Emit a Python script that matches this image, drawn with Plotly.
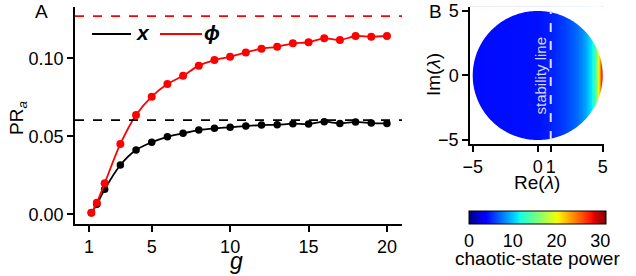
import numpy as np
import plotly.graph_objects as go

# ---------------- data ----------------
g_vals = [1.15, 1.5, 2, 3, 4, 5, 6, 7, 8, 9, 10, 11, 12, 13, 14, 15, 16, 17, 18, 19, 20]
pr_x = [0.001, 0.0064, 0.016, 0.0316, 0.0412, 0.0462, 0.0497, 0.0519, 0.054, 0.0551, 0.0558,
        0.0566, 0.0572, 0.0574, 0.0581, 0.0579, 0.0594, 0.0583, 0.0592, 0.0585, 0.0583]
pr_phi = [0.001, 0.0074, 0.0199, 0.0451, 0.0637, 0.0754, 0.0835, 0.0888, 0.0953, 0.0989, 0.101,
          0.1038, 0.1062, 0.1074, 0.1096, 0.1103, 0.1128, 0.1117, 0.1143, 0.1138, 0.1143]
limit_x = 0.0604
limit_phi = 0.1271
legend_names = ["x", "\u03d5"]

re_pts = [-5.3, -2.0, 0.0, 1.0, 2.0, 2.5, 3.0, 3.3, 3.6, 3.9, 4.1, 4.3, 4.5, 4.65, 4.8, 4.9, 5.0, 5.2]
power = [4.2, 4.3, 4.4, 4.9, 5.8, 6.4, 7.2, 8.0, 8.9, 9.9, 11.0, 12.8, 15.5, 19.0, 24.0, 27.0, 29.0, 29.5]
im_pts = [-5.5, 5.5]
radius = 5.0
stability_re = 1.0

x_ticks_a = [1, 5, 10, 15, 20]
y_ticks_a = [0.0, 0.05, 0.10]
y_ticktext_a = ["0.00", "0.05", "0.10"]
x_ticks_b = [-5, 0, 1, 5]
y_ticks_b = [-5, 0, 5]
cb_ticks = [0, 10, 20, 30]

# ---------------- style ----------------
W, H = 636, 276
FONT = "Liberation Sans, Arial, sans-serif"
FS = 18
RED = "#ff0000"

def px(x):
    return x / W

def py(y):
    return 1 - y / H

# matplotlib-like jet colorscale
seg_r = [(0, 0), (0.35, 0), (0.66, 1), (0.89, 1), (1, 0.5)]
seg_g = [(0, 0), (0.125, 0), (0.375, 1), (0.64, 1), (0.91, 0), (1, 0)]
seg_b = [(0, 0.5), (0.11, 1), (0.34, 1), (0.65, 0), (1, 0)]
stops = sorted(set([s for seg in (seg_r, seg_g, seg_b) for s, _ in seg]))
def chan(seg, t):
    return np.interp(t, [a for a, _ in seg], [b for _, b in seg])
jet = [[t, "rgb(%d,%d,%d)" % (round(255 * chan(seg_r, t)), round(255 * chan(seg_g, t)), round(255 * chan(seg_b, t)))] for t in stops]

fig = go.Figure()

# panel A
fig.add_trace(go.Scatter(x=g_vals, y=pr_x, mode="lines+markers", line=dict(color="black", width=1.8, shape="spline", smoothing=0.8),
                         marker=dict(color="black", size=7.5), showlegend=False, xaxis="x", yaxis="y"))
fig.add_trace(go.Scatter(x=g_vals, y=pr_phi, mode="lines+markers", line=dict(color=RED, width=1.8, shape="spline", smoothing=0.8),
                         marker=dict(color=RED, size=8), showlegend=False, xaxis="x", yaxis="y"))

fig.add_shape(type="line", xref="x domain", x0=0, x1=1, yref="y", y0=limit_x, y1=limit_x,
              line=dict(color="black", width=1.8, dash="dash"))
fig.add_shape(type="line", xref="x domain", x0=0, x1=1, yref="y", y0=limit_phi, y1=limit_phi,
              line=dict(color=RED, width=1.8, dash="dash"))

# legend drawn manually
leg_items = [(92, 131, 143, "black", legend_names[0]), (160, 202, 212, RED, legend_names[1])]
for x0, x1, xt, col, name in leg_items:
    fig.add_shape(type="line", xref="paper", yref="paper", x0=px(x0), x1=px(x1), y0=py(34), y1=py(34),
                  line=dict(color=col, width=2))
    fig.add_annotation(text="<b><i>%s</i></b>" % name, x=px(xt), y=py(33), xref="paper", yref="paper", showarrow=False,
                       xanchor="center", yanchor="middle", font=dict(family=FONT, size=21, color="black"))

# panel B
fig.add_trace(go.Heatmap(x=re_pts, y=im_pts, z=[power, power], zsmooth="best", colorscale=jet, zmin=0, zmax=31.3,
                         xaxis="x2", yaxis="y2", showscale=True, hoverinfo="skip",
                         colorbar=dict(orientation="h", lenmode="pixels", len=137, thickness=13,
                                       x=px(537.5), xanchor="center", y=py(211), yanchor="top",
                                       xpad=0, ypad=0, outlinewidth=1, outlinecolor="black",
                                       tickvals=cb_ticks, ticks="", tickfont=dict(family=FONT, size=FS, color="black"))))

# white mask outside circle
xr2 = [-5.21, 5.1]
yr2 = [-5.31, 5.33]
ang = np.linspace(0, 2 * np.pi, 241)
circ = " ".join(("M" if i == 0 else "L") + " %.4f,%.4f" % (radius * np.cos(a), radius * np.sin(a)) for i, a in enumerate(ang)) + " Z"
rect = "M %.3f,%.3f L %.3f,%.3f L %.3f,%.3f L %.3f,%.3f Z" % (xr2[0], yr2[0], xr2[1], yr2[0], xr2[1], yr2[1], xr2[0], yr2[1])
fig.add_shape(type="path", path=rect + " " + circ, xref="x2", yref="y2", fillcolor="white", fillrule="evenodd",
              line=dict(width=0), layer="above")
fig.add_shape(type="line", xref="x2", yref="y2", x0=stability_re, x1=stability_re, y0=-radius, y1=radius,
              line=dict(color="rgb(225,225,238)", width=2, dash="dash"), layer="above")

axis_common = dict(showline=True, linecolor="black", linewidth=1.5, ticks="outside", ticklen=6, tickwidth=1.5,
                   tickcolor="black", showgrid=False, zeroline=False, automargin=False,
                   tickfont=dict(family=FONT, size=FS, color="black"))

fig.update_layout(
    width=W, height=H, margin=dict(l=0, r=0, t=0, b=0, autoexpand=False), paper_bgcolor="white", plot_bgcolor="white",
    font=dict(family=FONT, size=FS, color="black"),
    xaxis=dict(domain=[px(75), px(402)], range=[0.107, 20.96], tickvals=x_ticks_a, anchor="y", **axis_common),
    yaxis=dict(domain=[py(224), py(7)], range=[-0.0062, 0.1329], tickvals=y_ticks_a, ticktext=y_ticktext_a, anchor="x", **axis_common),
    xaxis2=dict(domain=[px(470), px(604)], range=xr2, tickvals=x_ticks_b, anchor="y2", **axis_common),
    yaxis2=dict(domain=[py(144), py(6.7)], range=yr2, tickvals=y_ticks_b, anchor="x2", **axis_common),
    showlegend=False,
)

ann = [
    dict(text="A", x=px(41), y=py(12), size=19),
    dict(text="B", x=px(435), y=py(12), size=19),
    dict(text="PR<sub><i>a</i></sub>", x=px(18), y=py(118), size=19, angle=-90),
    dict(text="<i>g</i>", x=px(237), y=py(261), size=23),
    dict(text="Im(<i>\u03bb</i>)", x=px(433), y=py(75), size=19, angle=-90),
    dict(text="Re(<i>\u03bb</i>)", x=px(537), y=py(182), size=19),
    dict(text="chaotic-state power", x=px(537), y=py(258), size=19),
]
for a in ann:
    fig.add_annotation(text=a["text"], x=a["x"], y=a["y"], xref="paper", yref="paper", showarrow=False,
                       textangle=a.get("angle", 0), xanchor="center", yanchor="middle",
                       font=dict(family=FONT, size=a["size"], color="black"))

fig.add_annotation(text="stability line", x=0.18, y=0, xref="x2", yref="y2", showarrow=False, textangle=-90,
                   xanchor="center", yanchor="middle", font=dict(family=FONT, size=15, color="rgb(215,215,235)"))

fig.write_html("out.html", config={"displayModeBar": False},
               post_script="document.body.style.margin='0';document.body.style.padding='0';")
